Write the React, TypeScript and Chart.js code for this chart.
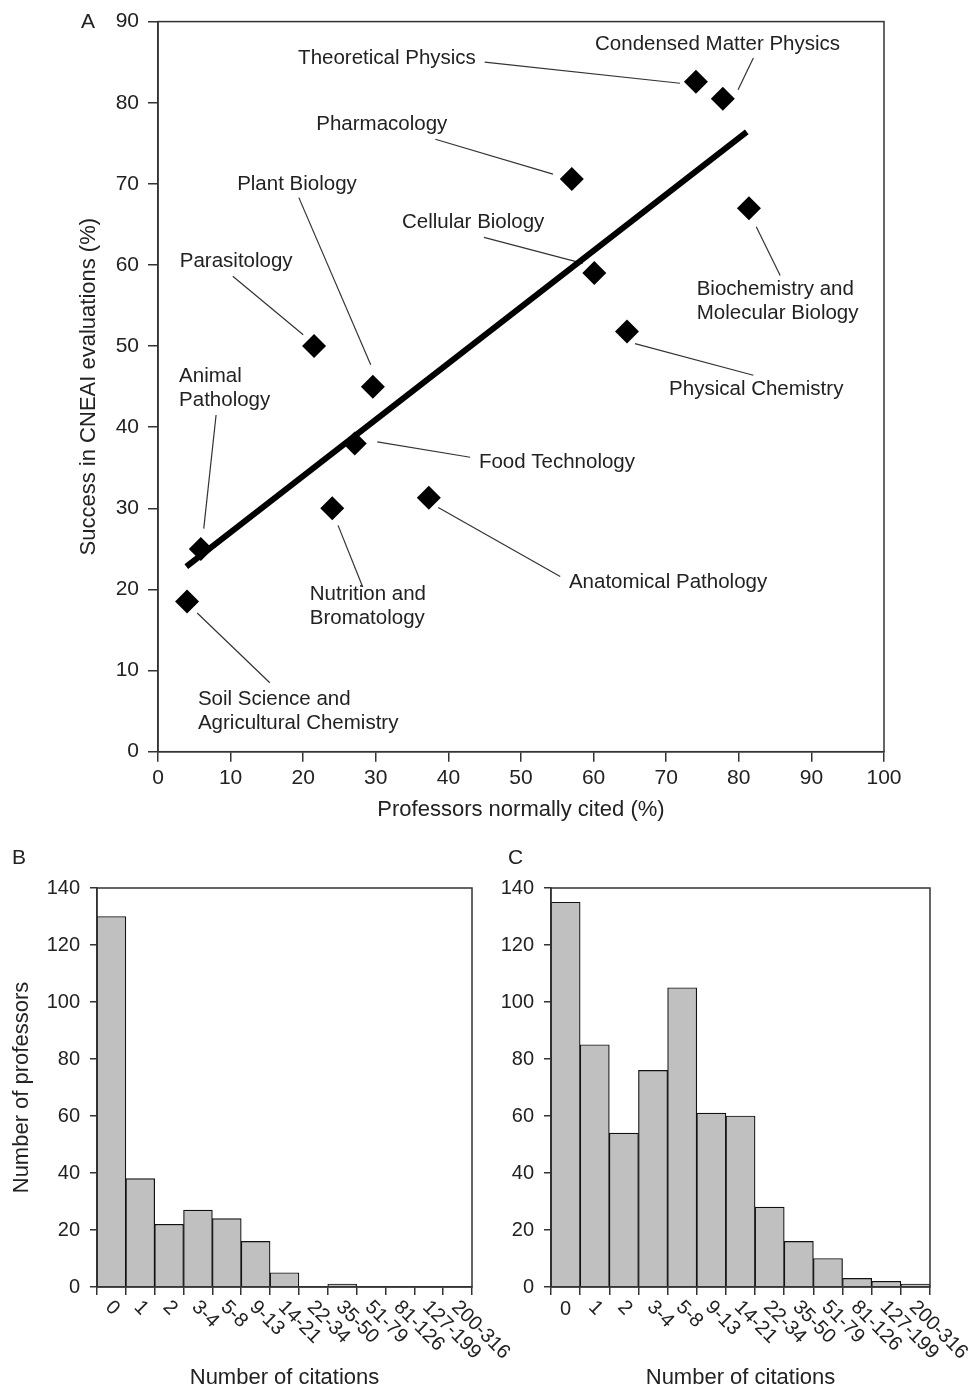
import React, { useEffect, useRef } from "react";
import { Chart, registerables } from "chart.js";

Chart.register(...registerables);

const FONT = "'Liberation Sans', Arial, Helvetica, sans-serif";
const INK = "#222";
const AXIS = "#333";

// ---------- Panel A data ----------
const fields = [
  "Theoretical Physics",
  "Condensed Matter Physics",
  "Pharmacology",
  "Biochemistry and Molecular Biology",
  "Cellular Biology",
  "Physical Chemistry",
  "Parasitology",
  "Plant Biology",
  "Food Technology",
  "Anatomical Pathology",
  "Nutrition and Bromatology",
  "Animal Pathology",
  "Soil Science and Agricultural Chemistry",
];
const fieldLabelLines = [
  ["Theoretical Physics"],
  ["Condensed Matter Physics"],
  ["Pharmacology"],
  ["Biochemistry and", "Molecular Biology"],
  ["Cellular Biology"],
  ["Physical Chemistry"],
  ["Parasitology"],
  ["Plant Biology"],
  ["Food Technology"],
  ["Anatomical Pathology"],
  ["Nutrition and", "Bromatology"],
  ["Animal", "Pathology"],
  ["Soil Science and", "Agricultural Chemistry"],
];
const profsCited = [74.1, 77.8, 57.0, 81.4, 60.1, 64.6, 21.5, 29.6, 27.1, 37.3, 24.0, 5.9, 4.0];
const cneaiSuccess = [82.6, 80.5, 70.6, 67.0, 59.0, 51.8, 50.0, 45.0, 38.0, 31.3, 30.0, 25.0, 18.5];
const trendX = [3.9, 81.1];
const trendY = [22.8, 76.4];

// ---------- Panels B & C data ----------
const citationBins = ["0", "1", "2", "3-4", "5-8", "9-13", "14-21", "22-34", "35-50", "51-79", "81-126", "127-199", "200-316"];
const professorsB = [130, 38, 22, 27, 24, 16, 5, 0, 1, 0, 0, 0, 0];
const professorsC = [135, 85, 54, 76, 105, 61, 60, 28, 16, 10, 3, 2, 1];

// ---------- annotation layout for panel A (in axis units) ----------
const annotLayout = [
  { tx: 19.3, ty: 85.5, x1: 45.0, y1: 85.0, x2: 71.9, y2: 82.4 },
  { tx: 60.2, ty: 87.2, x1: 82.0, y1: 85.5, x2: 79.9, y2: 81.6 },
  { tx: 21.8, ty: 77.3, x1: 38.2, y1: 75.5, x2: 54.4, y2: 71.2 },
  { tx: 74.2, ty: 57.0, x1: 82.4, y1: 64.7, x2: 85.7, y2: 58.7 },
  { tx: 33.6, ty: 65.2, x1: 44.9, y1: 63.4, x2: 58.5, y2: 60.2 },
  { tx: 70.4, ty: 44.65, x1: 65.7, y1: 50.3, x2: 82.0, y2: 46.4 },
  { tx: 3.0, ty: 60.5, x1: 10.3, y1: 58.6, x2: 20.0, y2: 51.4 },
  { tx: 10.9, ty: 69.9, x1: 19.4, y1: 68.3, x2: 29.3, y2: 47.7 },
  { tx: 44.2, ty: 35.7, x1: 30.2, y1: 38.2, x2: 43.0, y2: 36.3 },
  { tx: 56.6, ty: 20.9, x1: 38.6, y1: 30.1, x2: 55.4, y2: 21.6 },
  { tx: 20.9, ty: 19.4, x1: 24.8, y1: 27.9, x2: 28.2, y2: 20.3 },
  { tx: 2.9, ty: 46.3, x1: 8.0, y1: 41.5, x2: 6.3, y2: 27.5 },
  { tx: 5.5, ty: 6.5, x1: 5.4, y1: 17.1, x2: 15.4, y2: 8.5 },
];

Chart.defaults.font.family = FONT;
Chart.defaults.color = INK;

function framePlugin(letter: string, lx: number, ly: number) {
  return {
    id: "frame" + letter,
    afterDraw(chart: any) {
      const { ctx, chartArea: a } = chart;
      ctx.save();
      ctx.strokeStyle = AXIS;
      ctx.lineWidth = 1.5;
      ctx.strokeRect(a.left, a.top, a.right - a.left, a.bottom - a.top);
      ctx.fillStyle = INK;
      ctx.font = `21px ${FONT}`;
      ctx.textAlign = "left";
      ctx.textBaseline = "middle";
      ctx.fillText(letter, lx, ly);
      ctx.restore();
    },
  };
}

const annotPlugin = {
  id: "annot",
  beforeDatasetsDraw(chart: any) {
    const { ctx, scales } = chart;
    const xs = scales.x, ys = scales.y;
    ctx.save();
    ctx.strokeStyle = "#333";
    ctx.lineWidth = 1.2;
    annotLayout.forEach((l) => {
      ctx.beginPath();
      ctx.moveTo(xs.getPixelForValue(l.x1), ys.getPixelForValue(l.y1));
      ctx.lineTo(xs.getPixelForValue(l.x2), ys.getPixelForValue(l.y2));
      ctx.stroke();
    });
    ctx.restore();
  },
  afterDatasetsDraw(chart: any) {
    const { ctx, scales } = chart;
    const xs = scales.x, ys = scales.y;
    ctx.save();
    ctx.fillStyle = INK;
    ctx.font = `20.5px ${FONT}`;
    ctx.textAlign = "left";
    ctx.textBaseline = "middle";
    annotLayout.forEach((l, i) => {
      const x = xs.getPixelForValue(l.tx);
      const y = ys.getPixelForValue(l.ty);
      fieldLabelLines[i].forEach((line, k) => ctx.fillText(line, x, y + k * 24));
    });
    ctx.restore();
  },
};

function rotatedLabelsPlugin(labels: string[], uprightFirst: boolean) {
  return {
    id: "rotLabels",
    afterDraw(chart: any) {
      const { ctx, chartArea: a, scales } = chart;
      ctx.save();
      ctx.fillStyle = INK;
      ctx.font = `20px ${FONT}`;
      ctx.textBaseline = "middle";
      labels.forEach((lab, i) => {
        const cx = scales.x.getPixelForTick(i);
        if (i === 0 && uprightFirst) {
          ctx.textAlign = "center";
          ctx.fillText(lab, cx, a.bottom + 22);
          return;
        }
        ctx.textAlign = "left";
        ctx.save();
        ctx.translate(cx - 3, a.bottom + 17);
        ctx.rotate(Math.PI / 4);
        ctx.fillText(lab, 0, 0);
        ctx.restore();
      });
      ctx.restore();
    },
  };
}

function scatterConfig(): any {
  return {
    type: "scatter",
    data: {
      datasets: [
        {
          label: "Fields",
          data: profsCited.map((x, i) => ({ x, y: cneaiSuccess[i], name: fields[i] })),
          pointStyle: "rectRot",
          pointRadius: 12,
          pointHoverRadius: 12,
          backgroundColor: "#000",
          borderColor: "#000",
          borderWidth: 0,
          order: 0,
        },
        {
          label: "Trend",
          data: trendX.map((x, i) => ({ x, y: trendY[i] })),
          showLine: true,
          pointRadius: 0,
          borderColor: "#000",
          borderWidth: 6,
          borderCapStyle: "butt",
          order: 1,
        },
      ],
    },
    options: {
      responsive: false,
      animation: false,
      devicePixelRatio: 1,
      layout: { padding: { left: 0, top: 20.5, right: 88, bottom: 0 } },
      plugins: { legend: { display: false }, tooltip: { enabled: false } },
      scales: {
        x: {
          type: "linear",
          min: 0,
          max: 100,
          ticks: { stepSize: 10, font: { size: 21 }, color: INK, padding: 4, maxRotation: 0 },
          grid: { drawOnChartArea: false, tickLength: 10, color: AXIS, lineWidth: 1.5 },
          border: { color: AXIS, width: 1.5 },
          title: {
            display: true,
            text: "Professors normally cited (%)",
            font: { size: 22 },
            color: INK,
            padding: { top: 0, bottom: 6.8 },
          },
          afterFit: (s: any) => { s.height = 830 - 751.7; },
        },
        y: {
          type: "linear",
          min: 0,
          max: 90,
          ticks: { stepSize: 10, font: { size: 21 }, color: INK, padding: 9 },
          grid: { drawOnChartArea: false, tickLength: 10, color: AXIS, lineWidth: 1.5 },
          border: { color: AXIS, width: 1.5 },
          title: {
            display: true,
            text: "Success in CNEAI evaluations (%)",
            font: { size: 22 },
            color: INK,
            padding: { top: 75.8, bottom: 0 },
          },
          afterFit: (s: any) => { s.width = 158; },
        },
      },
    },
    plugins: [annotPlugin, framePlugin("A", 81, 22)],
  };
}

function barConfig(values: number[], letter: string, lx: number, yAxisWidth: number, rightPad: number, showYTitle: boolean, uprightFirst: boolean): any {
  return {
    type: "bar",
    data: {
      labels: citationBins,
      datasets: [
        {
          label: "Professors",
          data: values,
          backgroundColor: "#c0c0c0",
          borderColor: "#111",
          borderWidth: 1.2,
          categoryPercentage: 1,
          barPercentage: 1,
        },
      ],
    },
    options: {
      responsive: false,
      animation: false,
      devicePixelRatio: 1,
      layout: { padding: { left: 0, top: 58, right: rightPad, bottom: 0 } },
      plugins: { legend: { display: false }, tooltip: { enabled: false } },
      scales: {
        x: {
          type: "category",
          offset: true,
          ticks: { display: false },
          grid: { offset: true, drawOnChartArea: false, tickLength: 8, color: AXIS, lineWidth: 1.5 },
          border: { color: AXIS, width: 1.5 },
          title: {
            display: true,
            text: "Number of citations",
            font: { size: 22, lineHeight: 1 },
            color: INK,
            padding: { top: 0, bottom: 1 },
          },
          afterFit: (s: any) => { s.height = 560 - 457; },
        },
        y: {
          type: "linear",
          min: 0,
          max: 140,
          ticks: { stepSize: 20, font: { size: 20 }, color: INK, padding: 10 },
          grid: { drawOnChartArea: false, tickLength: 7, color: AXIS, lineWidth: 1.5 },
          border: { color: AXIS, width: 1.5 },
          title: {
            display: showYTitle,
            text: "Number of professors",
            font: { size: 22 },
            color: INK,
            padding: { top: 8.8, bottom: 0 },
          },
          afterFit: (s: any) => { s.width = yAxisWidth; },
        },
      },
    },
    plugins: [rotatedLabelsPlugin(citationBins, uprightFirst), framePlugin(letter, lx, 28)],
  };
}

function ChartBox(props: { left: number; top: number; width: number; height: number; make: () => any }) {
  const ref = useRef<HTMLCanvasElement | null>(null);
  useEffect(() => {
    const chart = new Chart(ref.current as HTMLCanvasElement, props.make());
    return () => chart.destroy();
  }, []);
  return (
    <canvas
      ref={ref}
      width={props.width}
      height={props.height}
      style={{ position: "absolute", left: props.left, top: props.top, width: props.width, height: props.height }}
    />
  );
}

export default function App() {
  return (
    <div style={{ position: "absolute", left: 0, top: 0, width: 972, height: 1390, background: "#fff", overflow: "hidden" }}>
      <ChartBox left={0} top={0} width={972} height={830} make={scatterConfig} />
      <ChartBox left={0} top={830} width={545} height={560} make={() => barConfig(professorsB, "B", 12, 97, 545 - 472, true, false)} />
      <ChartBox left={490} top={830} width={482} height={560} make={() => barConfig(professorsC, "C", 18, 61, 482 - 440, false, true)} />
    </div>
  );
}
